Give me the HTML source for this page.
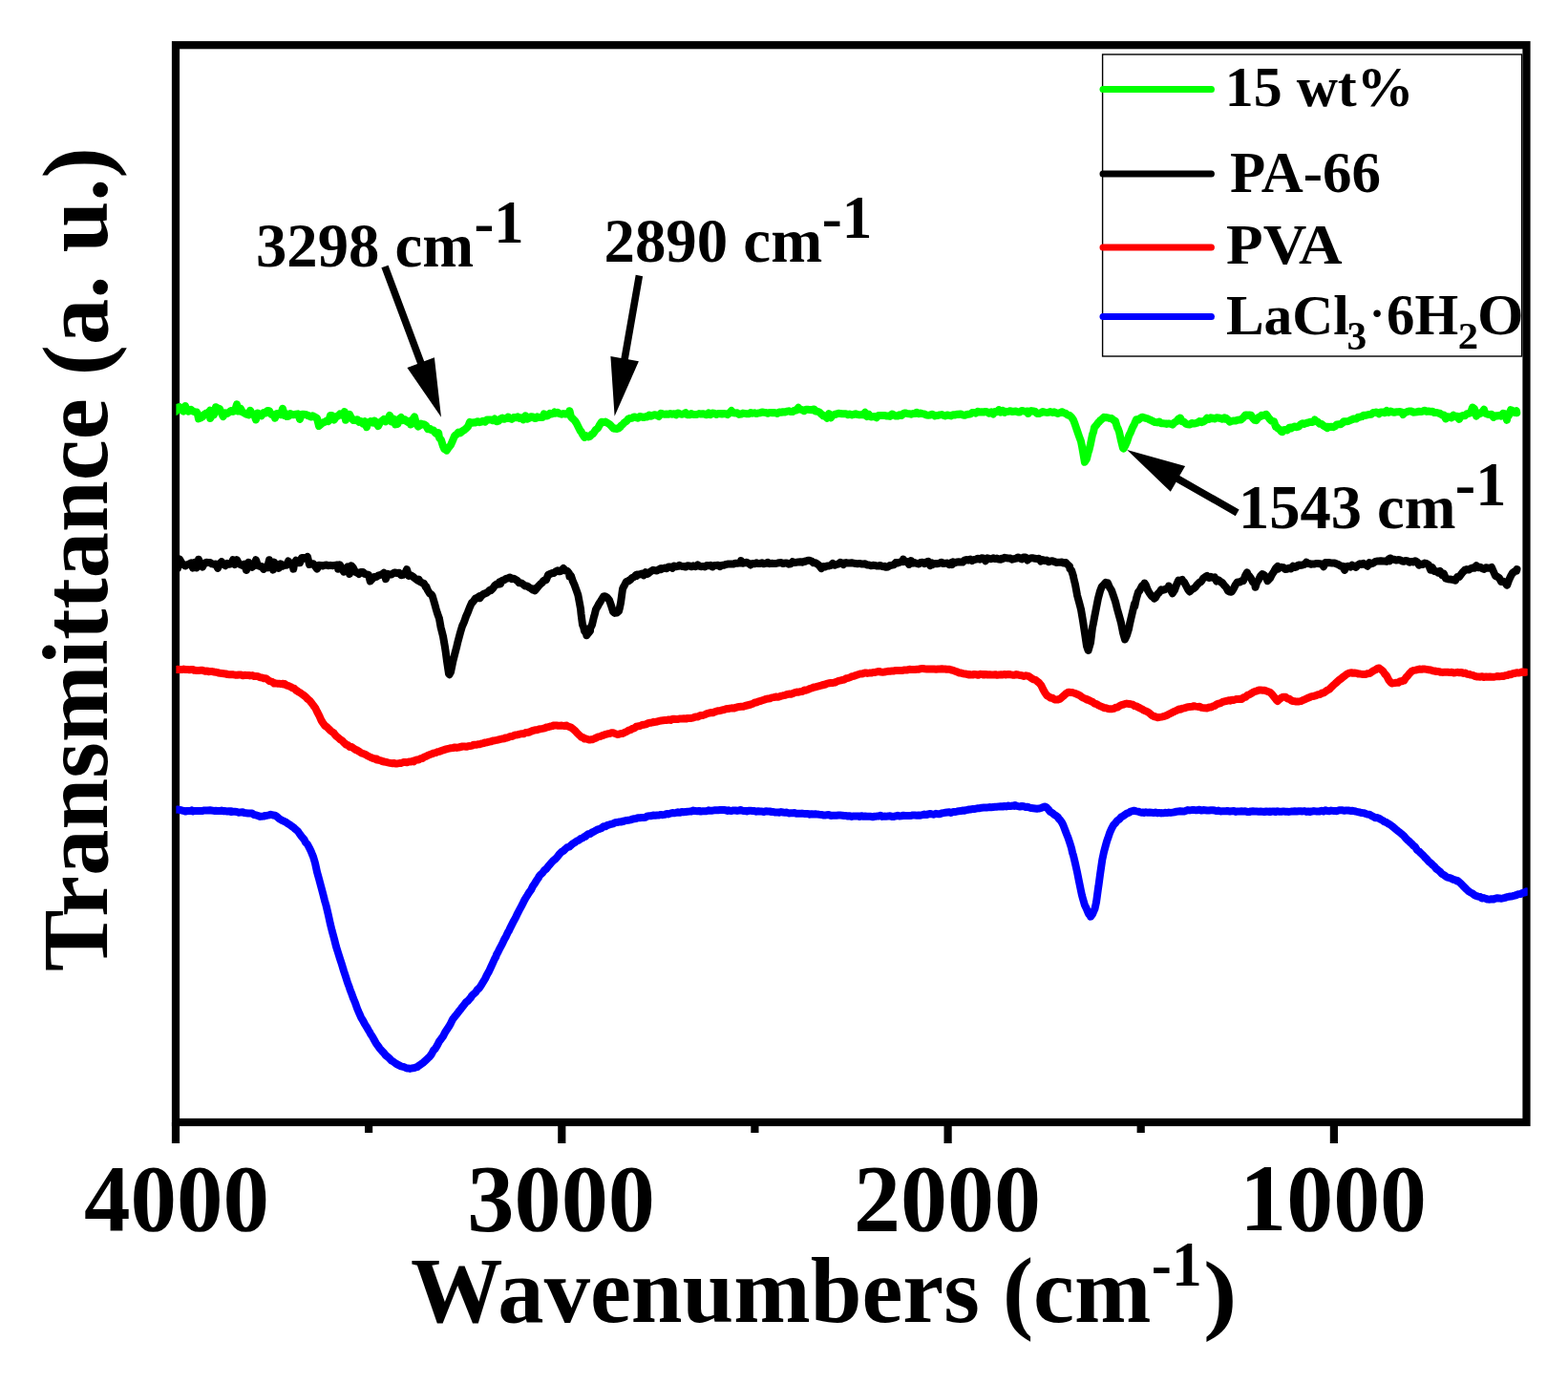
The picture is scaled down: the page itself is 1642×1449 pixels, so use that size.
<!DOCTYPE html>
<html><head><meta charset="utf-8"><title>FTIR spectra</title>
<style>
html,body{margin:0;padding:0;background:#fff;}
body{width:1642px;height:1449px;overflow:hidden;}
svg{display:block;}
text{font-family:"Liberation Serif","Times New Roman",serif;font-weight:bold;fill:#000;}
</style></head>
<body>
<svg width="1642" height="1449" viewBox="0 0 1642 1449">
<rect x="0" y="0" width="1642" height="1449" fill="#fff"/>
<defs><clipPath id="plot"><rect x="184.4" y="0" width="1415.3" height="1449"/></clipPath></defs>
<rect x="184" y="47.2" width="1414.5" height="1127.8" fill="none" stroke="#000" stroke-width="8.2"/>
<g stroke="#000" stroke-width="8.2">
<line x1="184.0" y1="1175" x2="184.0" y2="1197" /><line x1="588.3" y1="1175" x2="588.3" y2="1197" /><line x1="992.6" y1="1175" x2="992.6" y2="1197" /><line x1="1396.9" y1="1175" x2="1396.9" y2="1197" /><line x1="386.1" y1="1175" x2="386.1" y2="1186" /><line x1="790.4" y1="1175" x2="790.4" y2="1186" /><line x1="1194.7" y1="1175" x2="1194.7" y2="1186" />
</g>
<g fill="none" stroke-width="8" stroke-linejoin="round" stroke-linecap="round" clip-path="url(#plot)">
<path d="M184.0,847.8 L186.0,847.4 L188.0,848.0 L190.0,848.3 L192.0,848.8 L194.0,849.5 L196.0,849.0 L198.0,848.9 L200.0,848.8 L200.7,848.4 L202.0,849.5 L204.0,848.9 L206.0,849.1 L208.0,849.1 L210.0,849.0 L212.0,849.0 L214.0,848.4 L216.0,848.4 L218.0,848.6 L220.0,848.3 L221.4,848.5 L224.0,848.9 L226.0,848.8 L228.0,848.9 L230.0,849.1 L232.0,848.6 L234.0,849.2 L236.0,849.1 L238.0,849.5 L240.0,849.2 L242.0,849.3 L242.1,850.0 L244.0,849.8 L246.0,849.8 L248.0,850.0 L250.0,850.7 L252.0,850.4 L254.0,850.2 L256.0,851.1 L258.0,851.3 L260.0,851.6 L262.0,851.5 L262.8,851.6 L264.0,851.6 L266.0,853.0 L268.0,853.4 L270.0,854.0 L272.0,854.9 L273.2,854.8 L274.0,854.7 L276.0,854.6 L278.0,853.9 L280.0,853.7 L282.0,853.3 L283.5,852.7 L286.0,853.5 L288.0,853.8 L290.0,855.0 L292.0,856.8 L294.0,858.1 L295.9,859.2 L298.0,860.2 L300.0,861.2 L302.0,862.6 L304.0,863.8 L306.0,865.4 L308.0,866.8 L308.4,867.3 L310.0,868.6 L312.0,870.4 L314.0,873.4 L316.0,876.0 L318.0,878.4 L318.7,879.2 L320.0,881.9 L322.0,884.0 L324.0,887.8 L326.0,892.0 L327.0,894.6 L328.0,896.9 L330.0,903.6 L332.0,912.9 L333.2,917.1 L334.0,920.0 L336.0,927.5 L338.0,935.0 L340.0,942.8 L341.5,948.0 L344.0,958.6 L346.0,967.8 L347.7,974.6 L350.0,983.0 L352.0,991.0 L354.0,997.4 L356.0,1003.8 L358.0,1009.8 L360.0,1016.5 L362.0,1022.5 L364.0,1028.9 L366.0,1034.1 L366.3,1035.4 L368.0,1039.7 L370.0,1045.3 L372.0,1050.0 L374.0,1055.8 L376.0,1060.5 L376.7,1061.9 L378.0,1065.1 L380.0,1068.3 L382.0,1072.2 L384.0,1075.3 L386.0,1078.9 L387.0,1080.4 L388.0,1082.3 L390.0,1085.4 L392.0,1089.0 L394.0,1092.6 L396.0,1095.2 L397.4,1097.3 L398.0,1098.1 L400.0,1100.3 L402.0,1102.3 L404.0,1105.0 L406.0,1106.5 L407.7,1108.0 L410.0,1110.5 L412.0,1111.6 L414.0,1113.1 L415.5,1114.1 L418.0,1115.4 L420.0,1116.4 L422.0,1116.8 L424.0,1117.5 L426.0,1118.5 L428.0,1118.4 L429.2,1118.9 L430.0,1118.7 L432.0,1118.3 L434.0,1118.0 L436.0,1117.3 L437.3,1117.1 L438.0,1116.2 L440.0,1114.9 L442.0,1113.3 L443.5,1112.3 L446.0,1110.0 L448.0,1108.1 L449.7,1106.6 L452.0,1103.5 L454.0,1099.7 L455.9,1097.8 L458.0,1094.2 L460.0,1090.2 L462.0,1087.7 L462.1,1087.5 L464.0,1085.1 L466.0,1081.0 L468.0,1077.9 L468.3,1077.5 L470.0,1074.9 L472.0,1071.4 L474.0,1067.2 L474.5,1066.6 L476.0,1064.6 L478.0,1062.2 L480.0,1059.6 L480.7,1058.6 L482.0,1057.2 L484.0,1054.4 L486.0,1051.9 L487.0,1050.8 L488.0,1049.3 L490.0,1047.9 L492.0,1045.5 L493.2,1044.2 L494.0,1042.6 L496.0,1040.7 L498.0,1039.0 L500.0,1036.1 L502.0,1034.4 L504.0,1031.3 L505.6,1028.7 L508.0,1024.7 L510.0,1020.5 L512.0,1017.1 L514.0,1012.8 L516.0,1008.3 L518.0,1003.9 L519.2,1001.9 L520.0,999.5 L522.0,995.8 L524.0,991.8 L526.0,988.1 L528.0,983.8 L530.0,980.2 L532.0,975.8 L532.9,974.6 L534.0,972.1 L536.0,968.1 L538.0,964.2 L540.0,960.6 L542.0,956.3 L544.0,952.5 L546.0,948.8 L548.0,944.9 L548.5,943.7 L550.0,941.0 L552.0,937.7 L552.2,937.6 L554.0,934.5 L556.0,931.9 L558.0,927.8 L560.0,924.9 L562.0,921.6 L564.0,918.9 L564.1,918.2 L566.0,915.7 L568.0,914.0 L570.0,911.2 L572.0,909.7 L574.0,907.2 L576.0,904.9 L578.0,902.5 L579.6,900.9 L582.0,899.0 L584.0,896.7 L586.0,894.0 L588.0,891.9 L588.7,891.5 L590.0,890.9 L592.0,888.9 L594.0,887.1 L596.0,886.7 L597.2,885.6 L598.0,884.8 L600.0,883.2 L602.0,882.1 L604.0,880.5 L606.0,879.8 L608.0,878.1 L610.0,877.5 L612.0,875.9 L613.1,875.8 L614.0,874.8 L616.0,873.3 L618.0,873.0 L620.0,871.5 L622.0,870.6 L624.0,869.4 L626.0,868.3 L628.0,867.8 L630.0,867.0 L632.0,865.2 L634.0,865.2 L636.0,864.0 L637.4,863.7 L638.0,863.5 L640.0,862.8 L642.0,862.3 L644.0,861.3 L646.0,861.1 L648.0,860.6 L650.0,860.5 L652.0,860.0 L654.0,859.5 L656.0,858.9 L658.0,858.8 L660.0,858.4 L661.8,857.7 L664.0,857.3 L666.0,857.0 L668.0,856.2 L670.0,856.2 L672.0,856.0 L674.0,856.0 L676.0,855.8 L678.0,854.4 L680.0,854.3 L682.0,854.2 L684.0,853.6 L686.0,853.8 L688.0,853.5 L690.0,853.5 L692.0,852.9 L694.0,853.2 L696.0,852.8 L698.0,852.2 L698.3,852.0 L700.0,852.4 L702.0,851.6 L704.0,851.1 L706.0,851.3 L708.0,850.9 L710.0,850.3 L712.0,850.8 L714.0,849.9 L716.0,850.2 L718.0,849.9 L720.0,849.7 L722.0,849.6 L723.9,849.4 L726.0,848.6 L728.0,849.1 L730.0,849.2 L732.0,848.9 L734.0,849.6 L736.0,849.2 L738.0,849.3 L740.0,849.2 L742.0,848.3 L744.0,848.8 L746.0,848.7 L748.0,848.3 L750.0,848.2 L752.0,848.3 L754.0,848.1 L756.0,848.1 L758.0,848.0 L760.0,848.3 L762.0,848.9 L762.9,848.3 L764.0,848.7 L766.0,849.0 L768.0,848.4 L770.0,848.5 L772.0,848.9 L774.0,848.5 L776.0,848.0 L778.0,849.0 L780.0,849.0 L782.0,849.4 L784.0,848.8 L786.0,848.7 L788.0,848.9 L790.0,849.1 L792.0,849.7 L794.0,849.2 L796.0,849.4 L798.0,849.6 L800.0,850.0 L802.0,849.3 L804.0,849.5 L806.0,849.5 L808.0,850.0 L810.0,850.0 L812.0,850.6 L814.0,850.4 L816.0,850.7 L818.0,850.1 L820.0,850.5 L822.0,850.7 L824.0,850.6 L826.0,851.4 L828.0,851.3 L830.0,851.2 L832.0,851.1 L834.0,851.8 L836.0,851.7 L838.0,851.7 L839.0,851.8 L840.0,851.6 L842.0,851.9 L844.0,852.0 L846.0,852.0 L848.0,852.7 L850.0,852.2 L852.0,852.5 L854.0,852.3 L856.0,852.6 L858.0,852.8 L860.0,852.9 L862.0,853.4 L864.0,853.6 L866.0,853.2 L868.0,852.9 L870.0,854.0 L872.0,853.8 L874.0,853.7 L876.0,853.8 L878.0,853.6 L880.0,853.6 L882.0,853.7 L884.0,854.0 L886.0,854.0 L888.0,854.6 L890.0,854.2 L892.0,854.9 L894.0,854.4 L896.0,854.4 L898.0,854.4 L900.0,855.0 L902.0,854.2 L904.0,854.8 L906.0,854.6 L908.0,854.7 L910.0,854.7 L912.0,854.8 L914.0,855.3 L916.0,854.7 L916.9,854.8 L918.0,854.6 L920.0,854.6 L922.0,853.8 L924.0,854.9 L926.0,854.6 L928.0,854.7 L930.0,854.6 L932.0,854.2 L934.0,854.9 L936.0,854.9 L938.0,854.3 L940.0,853.8 L942.0,854.4 L944.0,854.3 L946.0,853.7 L948.0,853.9 L950.0,854.0 L952.0,854.1 L954.0,854.0 L955.9,853.4 L958.0,853.6 L960.0,853.8 L962.0,853.6 L964.0,853.7 L966.0,853.2 L968.0,852.6 L970.0,853.1 L972.0,852.4 L974.0,852.0 L976.0,852.4 L978.0,852.7 L980.0,851.8 L982.0,852.2 L984.0,852.3 L986.0,851.5 L988.0,851.1 L990.0,850.8 L992.0,850.5 L994.0,850.3 L994.9,850.4 L996.0,851.0 L998.0,850.0 L1000.0,850.1 L1002.0,849.7 L1004.0,849.2 L1006.0,849.1 L1008.0,848.5 L1010.0,848.7 L1012.0,848.1 L1014.0,847.8 L1014.4,847.4 L1016.0,847.5 L1018.0,847.1 L1020.0,847.1 L1022.0,846.6 L1024.0,846.3 L1026.0,846.2 L1028.0,845.7 L1030.0,845.6 L1032.0,845.6 L1034.0,845.4 L1036.0,845.1 L1038.0,845.2 L1040.0,845.0 L1042.0,844.8 L1043.6,844.7 L1046.0,844.4 L1048.0,844.2 L1050.0,844.5 L1052.0,844.0 L1054.0,844.4 L1056.0,843.5 L1058.0,844.1 L1060.0,843.6 L1062.0,843.9 L1063.1,843.1 L1064.0,843.6 L1066.0,844.1 L1068.0,844.5 L1070.0,844.0 L1072.0,844.3 L1074.0,845.0 L1076.0,844.7 L1078.0,845.5 L1080.0,846.1 L1082.0,846.3 L1084.0,846.5 L1086.0,846.7 L1088.0,846.4 L1088.4,846.5 L1090.0,846.0 L1092.0,845.2 L1094.0,844.4 L1094.4,844.6 L1096.0,845.4 L1098.0,847.5 L1099.7,849.8 L1102.0,851.2 L1104.0,852.8 L1106.0,854.1 L1108.0,855.7 L1108.5,856.8 L1110.0,858.3 L1112.0,861.1 L1113.4,863.9 L1116.0,870.7 L1118.0,875.9 L1118.3,876.4 L1120.0,881.6 L1122.0,887.9 L1123.1,892.9 L1124.0,895.6 L1126.0,904.0 L1128.0,913.0 L1130.0,923.0 L1132.0,932.7 L1132.9,937.0 L1134.0,941.0 L1136.0,947.8 L1137.8,951.4 L1140.0,956.8 L1142.0,959.0 L1142.1,959.6 L1144.0,957.3 L1146.0,952.5 L1146.5,951.5 L1148.0,944.7 L1150.0,930.1 L1150.4,927.7 L1152.0,915.8 L1154.0,902.0 L1154.3,900.0 L1156.0,892.0 L1158.0,884.6 L1159.2,880.4 L1160.0,878.2 L1162.0,872.2 L1164.0,867.6 L1166.0,863.8 L1168.0,861.7 L1170.0,859.1 L1172.0,857.9 L1174.0,855.5 L1175.8,854.7 L1178.0,853.0 L1180.0,851.6 L1182.0,851.0 L1184.0,849.6 L1186.0,849.1 L1187.5,848.7 L1190.0,849.3 L1192.0,849.7 L1194.0,850.3 L1196.0,850.8 L1197.2,850.4 L1198.0,851.0 L1200.0,850.3 L1202.0,850.8 L1204.0,850.6 L1206.0,850.7 L1208.0,851.1 L1210.0,850.5 L1212.0,851.2 L1214.0,850.9 L1216.0,851.4 L1216.7,851.1 L1218.0,851.3 L1220.0,850.8 L1222.0,851.1 L1224.0,850.6 L1226.0,850.9 L1228.0,850.6 L1230.0,850.3 L1232.0,849.7 L1234.0,849.5 L1236.0,849.3 L1236.2,849.2 L1238.0,849.6 L1240.0,849.6 L1242.0,848.8 L1244.0,848.1 L1246.0,848.4 L1248.0,848.1 L1250.0,847.9 L1251.3,848.1 L1252.0,848.2 L1254.0,848.2 L1256.0,847.7 L1258.0,848.6 L1260.0,848.1 L1262.0,848.3 L1264.0,848.5 L1266.0,848.4 L1268.0,848.2 L1270.0,848.2 L1272.0,848.5 L1274.0,849.1 L1276.0,848.6 L1278.0,849.4 L1280.0,849.3 L1282.0,849.2 L1284.0,849.2 L1285.1,849.0 L1286.0,849.1 L1288.0,849.6 L1290.0,849.2 L1292.0,849.0 L1294.0,849.9 L1296.0,849.4 L1298.0,849.4 L1300.0,849.3 L1302.0,849.5 L1304.0,849.3 L1306.0,849.9 L1308.0,850.1 L1310.0,849.4 L1312.0,849.3 L1314.0,849.4 L1316.0,849.5 L1318.0,849.7 L1320.0,849.6 L1322.0,849.8 L1324.0,850.0 L1326.0,849.5 L1328.0,849.8 L1330.0,849.6 L1330.1,850.0 L1332.0,849.6 L1334.0,849.5 L1336.0,850.0 L1338.0,849.3 L1340.0,849.8 L1342.0,849.7 L1344.0,849.4 L1346.0,849.7 L1348.0,849.8 L1350.0,849.9 L1352.0,849.6 L1354.0,849.5 L1356.0,849.3 L1358.0,849.4 L1360.0,849.2 L1362.0,849.2 L1364.0,849.4 L1366.0,849.1 L1368.0,849.9 L1370.0,849.5 L1372.0,850.0 L1374.0,849.4 L1375.2,849.3 L1376.0,849.1 L1378.0,849.4 L1380.0,849.4 L1382.0,849.4 L1384.0,848.7 L1386.0,849.4 L1388.0,848.3 L1390.0,849.0 L1392.0,849.2 L1394.0,848.6 L1396.0,848.9 L1398.0,849.0 L1400.0,849.2 L1402.0,848.3 L1404.0,848.3 L1406.0,848.3 L1408.0,848.8 L1409.0,848.4 L1410.0,848.4 L1412.0,848.5 L1414.0,848.9 L1416.0,848.8 L1418.0,849.1 L1420.0,849.7 L1422.0,850.1 L1424.0,850.5 L1426.0,851.1 L1428.0,851.2 L1430.0,851.8 L1431.5,852.5 L1434.0,852.7 L1436.0,854.0 L1438.0,854.9 L1440.0,856.2 L1442.0,856.1 L1444.0,856.8 L1446.0,858.0 L1448.0,859.0 L1450.0,860.5 L1452.0,861.1 L1454.0,862.6 L1454.1,862.4 L1456.0,863.6 L1458.0,865.1 L1460.0,866.8 L1462.0,868.5 L1464.0,870.1 L1466.0,871.6 L1468.0,873.4 L1470.0,875.0 L1472.0,877.5 L1474.0,879.6 L1476.0,881.0 L1476.6,882.0 L1478.0,883.0 L1480.0,885.2 L1482.0,886.7 L1484.0,890.0 L1486.0,891.3 L1488.0,893.4 L1490.0,895.2 L1492.0,897.5 L1494.0,899.4 L1496.0,901.8 L1498.0,903.4 L1499.1,904.3 L1500.0,905.4 L1502.0,907.0 L1504.0,909.5 L1506.0,911.0 L1508.0,912.6 L1510.0,915.0 L1512.0,916.0 L1514.0,917.5 L1514.9,918.1 L1516.0,918.6 L1518.0,919.1 L1520.0,919.8 L1522.0,920.8 L1524.0,921.3 L1526.0,922.5 L1526.2,922.0 L1528.0,923.4 L1530.0,925.2 L1532.0,927.4 L1534.0,929.4 L1536.0,931.4 L1538.0,933.2 L1540.0,934.5 L1541.9,935.4 L1544.0,937.1 L1546.0,938.0 L1548.0,938.6 L1550.0,939.0 L1552.0,940.5 L1554.0,940.1 L1556.0,940.9 L1558.0,941.6 L1560.0,941.7 L1562.0,941.2 L1564.0,941.5 L1566.0,940.6 L1568.0,940.2 L1570.0,940.4 L1572.0,940.7 L1574.0,940.4 L1576.0,939.9 L1578.0,939.2 L1580.0,938.8 L1582.0,938.5 L1584.0,938.2 L1586.0,937.7 L1588.0,937.1 L1590.0,936.2 L1592.0,936.1 L1594.0,935.1 L1596.0,934.5 L1598.0,934.0 L1598.3,933.3" stroke="#0000ff"/>
<path d="M184.3,701.0 L186.3,700.8 L188.3,700.9 L190.3,701.1 L192.3,700.6 L194.3,701.0 L196.3,700.9 L198.3,701.3 L200.3,701.1 L202.3,701.1 L203.4,701.8 L204.3,701.8 L206.3,702.1 L208.3,701.9 L210.3,701.8 L212.3,701.8 L214.3,702.7 L216.3,702.6 L218.3,702.8 L219.0,703.2 L220.3,702.9 L222.3,703.1 L224.3,703.5 L226.3,703.8 L228.3,704.2 L228.7,704.5 L230.3,704.7 L232.3,705.1 L234.3,705.3 L236.3,705.5 L238.3,706.0 L240.3,706.2 L242.3,706.2 L242.4,706.2 L244.3,706.3 L246.3,706.7 L248.3,706.8 L250.3,706.5 L252.3,706.5 L254.3,707.3 L256.3,706.8 L258.3,707.1 L260.3,707.0 L261.9,707.4 L264.3,707.1 L266.3,708.0 L268.3,707.9 L270.3,708.2 L272.3,709.3 L274.3,709.4 L276.3,710.2 L277.4,710.3 L278.3,710.2 L280.3,711.5 L282.3,713.2 L284.3,713.6 L286.3,714.7 L287.2,715.6 L288.3,715.3 L290.3,715.7 L292.3,715.7 L294.3,716.1 L296.3,715.8 L296.9,716.4 L298.3,716.1 L300.3,717.7 L302.3,718.2 L304.3,719.1 L306.3,720.2 L308.3,720.9 L310.3,723.0 L310.6,722.8 L312.3,724.2 L314.3,725.3 L316.3,726.7 L318.3,728.1 L320.3,729.8 L322.3,731.9 L324.3,733.5 L326.3,736.0 L328.3,738.8 L330.3,741.4 L332.0,745.0 L334.3,749.3 L336.3,754.0 L337.9,756.5 L340.3,759.9 L342.3,761.2 L344.3,763.1 L346.3,765.1 L348.3,766.6 L349.6,767.4 L350.3,768.6 L352.3,770.9 L354.3,772.4 L356.3,774.2 L358.3,775.4 L360.3,777.8 L361.3,778.3 L362.3,779.6 L364.3,780.1 L366.3,782.0 L368.3,782.1 L370.3,783.5 L372.3,784.9 L374.3,785.6 L374.9,786.2 L376.3,786.9 L378.3,788.4 L380.3,789.0 L382.3,789.7 L384.3,790.9 L386.3,792.0 L388.3,793.0 L390.3,793.8 L392.3,794.4 L394.3,795.3 L394.4,794.4 L396.3,795.8 L398.3,796.1 L400.3,797.0 L402.3,797.5 L404.3,797.9 L406.3,798.4 L408.3,798.8 L410.3,799.2 L412.3,799.0 L413.9,799.4 L416.3,799.4 L418.3,799.1 L420.3,798.9 L422.3,798.1 L424.3,798.0 L426.3,798.2 L428.3,797.5 L430.3,797.5 L432.3,796.8 L433.4,797.3 L434.3,796.3 L436.3,795.6 L438.3,795.4 L440.3,794.3 L442.3,794.0 L444.3,792.5 L446.3,791.9 L448.3,790.7 L450.3,790.0 L452.3,789.3 L452.9,789.1 L454.3,788.4 L456.3,788.1 L458.3,787.2 L460.3,786.8 L462.3,786.0 L464.3,785.3 L466.3,784.7 L468.3,784.1 L470.3,783.7 L472.3,783.2 L474.3,783.0 L476.3,782.5 L478.3,782.9 L480.3,782.5 L482.3,782.0 L484.3,781.5 L486.3,781.5 L488.3,781.8 L490.0,781.3 L492.3,781.1 L494.3,780.7 L496.3,779.7 L498.3,779.8 L500.3,779.3 L502.3,779.2 L504.3,778.5 L506.3,778.1 L508.3,777.4 L510.3,777.2 L512.3,776.6 L514.3,776.3 L516.3,775.5 L518.3,775.2 L520.3,774.8 L522.3,774.3 L524.3,773.8 L526.3,773.4 L528.3,773.2 L529.0,772.6 L530.3,772.6 L532.3,772.0 L534.3,770.9 L536.3,771.0 L538.3,769.9 L540.3,769.4 L542.3,769.2 L544.3,768.6 L546.3,768.2 L548.3,768.3 L550.3,767.1 L552.3,767.0 L554.3,766.5 L556.3,765.6 L558.3,764.9 L560.3,764.3 L562.3,764.2 L564.3,763.5 L566.3,763.1 L568.0,762.9 L570.3,762.4 L572.3,761.5 L574.3,761.1 L576.3,760.5 L578.3,760.1 L580.3,759.4 L582.3,759.4 L583.5,759.4 L584.3,759.7 L586.3,759.7 L588.3,759.6 L590.3,759.9 L592.3,759.8 L593.3,759.5 L594.3,760.3 L596.3,761.0 L598.3,761.8 L600.3,763.4 L601.1,764.1 L602.3,765.1 L604.3,767.4 L606.3,769.3 L608.3,771.2 L608.9,771.8 L610.3,771.9 L612.3,773.6 L614.3,773.6 L616.3,774.4 L618.3,774.4 L618.6,774.2 L620.3,774.2 L622.3,773.4 L624.3,772.5 L626.3,771.4 L628.3,771.1 L630.3,770.3 L632.3,769.6 L634.3,768.8 L636.3,768.3 L638.3,768.1 L640.3,767.3 L642.0,767.2 L644.3,768.1 L646.3,768.9 L647.9,768.8 L650.3,767.9 L652.3,767.9 L654.3,766.7 L656.3,766.0 L658.3,764.7 L660.3,764.2 L662.3,762.8 L664.3,762.3 L665.4,761.5 L666.3,760.7 L668.3,760.3 L670.3,760.0 L672.3,759.0 L674.3,758.7 L676.3,758.4 L678.3,757.4 L680.3,756.7 L682.3,756.7 L684.3,755.8 L684.9,756.2 L686.3,755.9 L688.3,755.5 L690.3,754.9 L692.3,754.5 L694.3,754.3 L696.3,754.1 L698.3,754.0 L700.3,753.4 L702.3,753.9 L704.3,752.8 L704.4,752.9 L706.3,752.8 L708.3,752.9 L710.3,752.9 L712.3,752.4 L714.3,752.4 L716.3,752.2 L718.3,752.6 L720.3,751.9 L722.3,751.9 L723.9,751.9 L726.3,751.3 L728.3,750.5 L730.3,750.6 L732.3,749.6 L734.3,748.9 L736.3,748.9 L738.3,748.1 L740.3,747.1 L742.3,746.6 L743.4,746.5 L744.3,745.9 L746.3,746.3 L748.3,745.4 L750.3,744.7 L752.3,744.2 L754.3,744.0 L756.3,743.4 L758.3,743.0 L760.3,742.3 L762.3,742.0 L762.9,742.0 L764.3,741.7 L766.3,741.3 L768.3,741.6 L770.3,740.9 L772.3,740.3 L774.3,740.0 L776.3,739.7 L778.3,739.8 L780.3,739.0 L782.3,738.5 L784.3,738.0 L786.3,737.5 L788.3,736.8 L790.3,735.5 L792.3,735.4 L794.3,734.4 L796.3,734.0 L798.3,733.3 L800.0,732.7 L802.3,731.9 L804.3,731.5 L806.3,731.2 L808.3,730.4 L810.3,730.1 L812.3,729.5 L814.3,729.8 L816.3,729.3 L818.3,728.6 L819.5,728.4 L820.3,728.2 L822.3,727.8 L824.3,727.0 L826.3,726.6 L828.3,726.8 L830.3,726.0 L832.3,725.1 L834.3,724.6 L836.3,724.7 L838.3,724.2 L839.0,723.9 L840.3,723.9 L842.3,722.6 L844.3,722.7 L846.3,721.8 L848.3,720.8 L850.3,720.4 L852.3,719.5 L854.3,719.2 L856.3,718.7 L858.3,718.2 L858.5,718.0 L860.3,717.5 L862.3,717.0 L864.3,716.5 L866.3,715.6 L868.3,715.3 L870.3,715.0 L872.3,714.9 L874.3,714.5 L876.3,713.6 L878.0,712.9 L880.3,712.4 L882.3,711.9 L884.3,711.5 L886.3,710.2 L888.3,709.9 L890.3,709.1 L892.3,708.2 L894.3,707.8 L896.3,707.0 L898.3,706.4 L900.3,705.6 L902.3,705.6 L903.3,705.4 L904.3,704.9 L906.3,704.4 L908.3,704.9 L910.3,704.6 L912.3,704.6 L914.3,704.0 L916.3,704.0 L918.3,703.4 L920.3,703.0 L922.3,703.5 L924.3,703.7 L926.3,703.5 L928.3,703.1 L930.3,702.8 L932.3,702.7 L934.3,702.4 L936.3,702.6 L936.4,702.3 L938.3,702.1 L940.3,702.1 L942.3,701.9 L944.3,702.1 L946.3,701.6 L948.3,701.5 L950.3,701.4 L952.3,700.8 L954.3,701.0 L956.3,701.1 L958.3,700.9 L960.3,700.7 L962.3,700.7 L964.3,700.1 L965.7,699.9 L968.3,700.3 L970.3,700.4 L972.3,700.4 L974.3,700.4 L976.3,700.6 L978.3,700.6 L980.3,700.8 L982.3,700.6 L984.3,700.4 L986.3,700.2 L988.3,700.6 L990.3,700.4 L991.0,700.7 L992.3,700.8 L994.3,700.8 L996.3,701.5 L998.3,701.9 L1000.3,702.7 L1002.3,703.4 L1004.3,704.4 L1006.3,704.6 L1008.3,705.2 L1010.3,705.5 L1012.3,705.8 L1014.3,706.4 L1014.4,706.1 L1016.3,706.3 L1018.3,706.6 L1020.3,705.9 L1022.3,706.2 L1024.3,706.8 L1026.3,705.8 L1028.3,705.9 L1030.3,706.6 L1032.3,705.9 L1033.9,706.6 L1036.3,706.2 L1038.3,706.4 L1040.3,706.4 L1042.3,706.2 L1044.3,706.8 L1046.3,706.4 L1048.3,706.3 L1050.3,706.4 L1052.3,706.0 L1053.4,706.4 L1054.3,706.3 L1056.3,706.0 L1058.3,706.3 L1060.3,706.7 L1062.3,706.8 L1064.3,706.1 L1066.3,706.5 L1068.3,707.1 L1070.3,707.3 L1072.3,707.9 L1072.8,707.8 L1074.3,707.3 L1076.3,707.7 L1078.3,708.7 L1080.3,710.1 L1082.3,711.4 L1084.3,711.8 L1086.3,713.5 L1088.3,715.0 L1088.4,715.2 L1090.3,717.5 L1092.3,721.7 L1094.3,725.3 L1096.2,728.1 L1098.3,729.2 L1100.3,730.7 L1102.3,730.8 L1104.3,732.4 L1106.3,732.5 L1107.9,732.4 L1110.3,731.6 L1112.3,729.8 L1114.3,728.1 L1116.3,726.2 L1118.3,725.0 L1119.5,724.7 L1120.3,724.9 L1122.3,724.9 L1124.3,725.5 L1126.3,726.1 L1128.3,727.0 L1130.3,727.9 L1132.3,729.3 L1134.3,730.6 L1136.3,731.4 L1138.3,732.7 L1139.0,732.3 L1140.3,733.1 L1142.3,734.1 L1144.3,735.0 L1146.3,736.6 L1148.3,737.1 L1150.3,738.4 L1152.3,739.3 L1154.3,740.2 L1156.3,741.2 L1158.3,741.3 L1160.3,742.0 L1162.3,742.3 L1162.4,742.2 L1164.3,742.2 L1166.3,741.9 L1168.3,740.8 L1170.3,740.6 L1172.3,739.1 L1174.3,738.2 L1176.3,737.7 L1178.3,736.9 L1179.9,736.6 L1182.3,737.0 L1184.3,737.3 L1186.3,737.7 L1188.3,739.1 L1190.3,739.5 L1192.3,740.7 L1194.3,741.7 L1196.3,742.6 L1197.4,743.4 L1198.3,743.8 L1200.3,744.7 L1202.3,745.6 L1204.3,747.2 L1206.3,748.9 L1208.3,750.0 L1210.3,750.5 L1212.3,751.2 L1213.0,751.2 L1214.3,750.9 L1216.3,750.6 L1218.3,750.2 L1220.3,749.5 L1222.3,748.7 L1224.3,747.6 L1226.3,746.7 L1228.3,745.6 L1230.3,744.6 L1232.3,743.8 L1234.3,742.6 L1236.3,742.7 L1236.4,742.5 L1238.3,741.7 L1240.3,741.4 L1242.3,740.7 L1244.3,740.2 L1246.3,739.9 L1248.3,739.8 L1250.3,739.2 L1252.0,739.6 L1254.3,739.9 L1256.3,739.8 L1258.3,740.8 L1260.3,741.2 L1261.8,741.2 L1264.3,741.4 L1266.3,740.5 L1268.3,740.4 L1270.3,739.3 L1272.3,738.8 L1274.3,737.3 L1276.3,736.6 L1278.3,736.1 L1280.3,734.9 L1282.3,734.4 L1284.3,733.9 L1285.2,733.8 L1286.3,733.2 L1288.3,733.7 L1290.3,732.7 L1292.3,732.9 L1294.3,732.1 L1296.3,731.9 L1298.3,731.8 L1298.8,732.0 L1300.3,732.0 L1302.3,730.2 L1304.3,729.9 L1306.3,727.9 L1308.3,727.2 L1310.3,726.1 L1312.3,724.7 L1314.3,723.9 L1316.3,723.3 L1318.3,722.6 L1320.2,722.6 L1322.3,722.7 L1324.3,722.8 L1326.3,723.5 L1328.3,724.2 L1330.0,724.9 L1332.3,727.2 L1334.3,729.8 L1336.3,732.4 L1337.8,734.0 L1340.3,731.8 L1342.3,730.3 L1343.6,729.7 L1344.3,729.7 L1346.3,729.8 L1348.3,731.5 L1350.3,731.8 L1352.3,733.4 L1354.3,734.1 L1356.3,734.3 L1357.3,734.5 L1358.3,734.6 L1360.3,734.4 L1362.3,734.1 L1364.3,733.2 L1366.3,732.3 L1368.3,731.4 L1370.3,730.5 L1372.3,729.7 L1372.9,729.4 L1374.3,729.0 L1376.3,728.7 L1378.3,728.1 L1380.3,727.2 L1382.3,727.0 L1384.3,725.6 L1386.3,725.5 L1388.3,723.9 L1388.4,723.7 L1390.3,722.5 L1392.3,721.4 L1394.3,719.3 L1396.3,717.4 L1398.3,715.6 L1400.3,713.9 L1402.1,712.1 L1404.3,710.6 L1406.3,708.9 L1408.3,707.5 L1410.3,705.8 L1412.3,704.9 L1414.3,704.4 L1415.3,704.3 L1416.3,704.7 L1418.3,704.6 L1420.3,704.7 L1422.3,705.4 L1424.3,705.6 L1426.3,705.9 L1428.3,706.0 L1429.4,706.0 L1430.3,705.8 L1432.3,705.2 L1434.3,705.1 L1436.3,703.6 L1438.3,702.2 L1440.3,701.4 L1442.3,700.0 L1444.3,699.5 L1444.8,700.0 L1446.3,701.0 L1448.3,702.7 L1450.3,705.8 L1451.2,706.6 L1452.3,707.9 L1454.3,712.0 L1456.3,714.4 L1457.6,715.5 L1458.3,715.2 L1460.3,715.0 L1462.3,714.7 L1464.3,714.8 L1466.3,713.2 L1468.3,713.2 L1469.1,712.4 L1470.3,712.6 L1472.3,709.4 L1474.3,707.4 L1476.3,704.8 L1478.3,702.8 L1479.3,702.4 L1480.3,701.9 L1482.3,701.6 L1484.3,701.1 L1486.3,700.6 L1488.3,700.7 L1489.5,700.7 L1490.3,700.5 L1492.3,700.6 L1494.3,700.9 L1496.3,701.3 L1498.3,701.5 L1500.3,702.2 L1502.3,702.5 L1504.3,703.0 L1506.3,703.0 L1508.3,703.7 L1508.7,703.6 L1510.3,703.9 L1512.3,703.8 L1514.3,703.7 L1516.3,703.8 L1518.3,704.1 L1520.3,703.8 L1522.3,704.4 L1524.3,704.2 L1526.3,703.8 L1527.9,704.3 L1530.3,704.0 L1532.3,704.9 L1534.3,704.6 L1536.3,705.7 L1538.3,705.9 L1540.3,706.6 L1542.3,706.9 L1544.3,707.8 L1546.3,708.4 L1548.3,708.5 L1550.3,708.7 L1552.3,708.2 L1553.5,709.0 L1554.3,708.8 L1556.3,708.6 L1558.3,708.8 L1560.3,708.5 L1562.3,708.7 L1564.3,708.7 L1566.3,708.4 L1568.3,708.0 L1570.3,708.2 L1572.3,707.9 L1572.7,707.8 L1574.3,708.1 L1576.3,707.3 L1578.3,707.1 L1580.3,706.1 L1582.3,706.2 L1584.3,705.2 L1585.4,705.0 L1586.3,704.9 L1588.3,704.2 L1590.3,704.5 L1592.3,704.1 L1594.3,703.4 L1596.3,704.0 L1597.6,703.8" stroke="#ff0000"/>
<path d="M184.0,591.0 L186.0,595.2 L188.0,585.3 L190.0,589.0 L192.0,591.0 L194.0,592.4 L196.0,591.3 L198.0,590.6 L200.0,589.4 L202.0,594.6 L204.0,588.9 L206.0,594.4 L206.8,591.7 L208.0,585.7 L210.0,590.9 L212.0,593.5 L214.0,589.8 L216.0,588.8 L218.0,588.9 L220.0,589.0 L222.0,590.4 L224.0,590.7 L226.0,590.6 L228.0,594.8 L230.0,590.3 L232.0,588.2 L233.6,590.2 L236.0,592.2 L238.0,589.8 L240.0,590.7 L242.0,590.4 L244.0,586.2 L246.0,591.1 L248.0,586.1 L250.0,589.9 L252.0,591.3 L254.0,592.0 L256.0,590.7 L258.0,597.0 L260.0,590.3 L260.4,588.9 L262.0,591.3 L264.0,593.7 L266.0,592.3 L268.0,586.2 L270.0,592.0 L272.0,592.9 L274.0,592.9 L276.0,595.9 L278.0,593.6 L280.0,594.3 L282.0,586.2 L284.0,590.9 L286.0,596.6 L287.2,588.6 L288.0,592.1 L290.0,591.1 L292.0,594.8 L294.0,590.5 L296.0,592.6 L298.0,591.6 L300.0,591.7 L302.0,587.5 L304.0,590.9 L306.0,589.8 L307.3,595.7 L308.0,590.1 L310.0,586.8 L312.0,589.2 L314.0,589.3 L316.0,583.9 L318.0,584.0 L320.0,584.9 L322.0,583.0 L324.0,591.0 L326.0,590.0 L328.0,590.3 L330.0,592.9 L332.0,595.5 L334.0,592.5 L334.1,591.8 L336.0,591.9 L338.0,592.5 L340.0,591.8 L342.0,591.6 L344.0,592.2 L346.0,591.8 L348.0,592.2 L350.0,591.9 L352.0,591.6 L354.0,591.6 L354.2,595.8 L356.0,591.5 L358.0,594.8 L360.0,598.6 L360.9,598.1 L362.0,598.1 L364.0,593.5 L366.0,600.9 L368.0,592.4 L370.0,594.7 L372.0,598.7 L374.0,599.8 L374.3,599.5 L376.0,601.0 L378.0,599.0 L380.0,598.9 L382.0,600.9 L384.0,601.4 L386.0,601.9 L387.7,608.5 L390.0,606.1 L392.0,603.9 L394.0,604.1 L396.0,602.6 L398.0,602.0 L400.0,601.4 L402.0,599.7 L402.8,600.7 L404.0,606.2 L406.0,600.9 L408.0,601.5 L410.0,601.4 L412.0,600.1 L414.0,599.4 L415.6,600.0 L418.0,599.8 L420.0,602.2 L422.0,601.9 L424.0,600.5 L426.0,596.2 L428.0,602.9 L428.4,602.4 L430.0,602.2 L432.0,603.4 L434.0,605.1 L436.0,606.6 L438.0,608.0 L438.6,606.7 L440.0,609.2 L442.0,610.1 L444.0,611.0 L446.0,615.0 L446.3,614.1 L448.0,618.2 L450.0,621.3 L452.0,622.6 L452.7,623.9 L454.0,628.2 L456.0,635.2 L456.5,637.1 L458.0,642.1 L460.0,647.7 L461.6,656.8 L464.0,666.2 L466.0,677.8 L466.7,682.5 L468.0,692.3 L470.0,705.4 L470.6,706.2 L472.0,703.6 L474.0,693.9 L474.4,692.2 L476.0,685.8 L478.0,678.1 L479.5,671.7 L482.0,662.4 L484.0,655.6 L484.6,654.4 L486.0,651.2 L488.0,645.4 L489.8,641.3 L492.0,635.6 L494.0,631.2 L494.9,630.6 L496.0,629.2 L498.0,626.5 L500.0,625.7 L502.0,624.2 L502.5,626.3 L504.0,624.1 L506.0,622.1 L508.0,621.4 L510.0,620.5 L512.0,618.8 L512.8,617.8 L514.0,618.2 L516.0,616.2 L518.0,613.2 L520.0,611.6 L522.0,611.7 L523.0,609.4 L524.0,611.2 L526.0,607.6 L528.0,607.3 L530.0,605.9 L532.0,605.4 L534.0,604.5 L534.5,604.9 L536.0,606.2 L538.0,605.7 L540.0,606.9 L542.0,608.2 L543.5,610.3 L546.0,610.4 L548.0,611.9 L549.9,613.5 L552.0,613.5 L554.0,614.9 L556.0,616.0 L558.0,617.5 L560.0,616.2 L560.1,618.4 L562.0,616.2 L564.0,613.5 L566.0,611.4 L568.0,609.8 L569.0,608.2 L570.0,607.5 L572.0,607.2 L574.0,601.8 L575.4,601.3 L576.0,601.0 L578.0,600.1 L580.0,600.0 L582.0,598.3 L584.0,597.3 L585.7,598.3 L588.0,597.6 L590.0,595.1 L592.0,597.6 L594.0,597.7 L596.0,600.2 L596.4,603.5 L598.0,602.9 L600.0,608.9 L601.5,612.2 L604.0,619.1 L605.3,622.8 L606.0,626.4 L608.0,637.2 L608.5,642.4 L610.0,654.1 L611.1,656.5 L612.0,660.7 L614.0,663.4 L614.3,665.2 L616.0,663.1 L618.0,660.5 L618.1,657.9 L620.0,654.2 L622.0,645.6 L622.6,643.9 L624.0,638.0 L626.0,634.6 L627.1,632.4 L628.0,631.1 L630.0,627.8 L632.0,624.5 L633.5,624.3 L636.0,625.8 L638.0,628.2 L638.6,629.8 L640.0,633.9 L642.0,640.3 L643.7,641.9 L646.0,641.6 L648.0,639.8 L648.8,637.0 L650.0,631.3 L652.0,616.8 L652.7,615.0 L654.0,612.7 L656.0,608.9 L658.0,608.5 L659.1,607.3 L660.0,607.2 L662.0,604.9 L664.0,604.1 L666.0,601.9 L666.7,602.9 L668.0,601.4 L670.0,601.6 L672.0,600.5 L674.0,602.3 L676.0,599.2 L678.0,600.8 L679.5,599.8 L682.0,597.9 L684.0,596.8 L686.0,597.2 L688.0,597.5 L690.0,596.2 L692.0,595.1 L692.3,596.1 L694.0,595.4 L696.0,594.6 L698.0,595.2 L700.0,593.4 L702.0,593.4 L704.0,594.8 L706.0,592.5 L708.0,593.2 L710.0,592.9 L711.5,591.8 L714.0,593.0 L716.0,593.0 L718.0,593.5 L720.0,592.3 L722.0,592.5 L724.0,593.3 L726.0,592.3 L728.0,593.2 L730.0,592.5 L730.7,591.4 L732.0,592.7 L734.0,593.2 L736.0,592.9 L738.0,593.4 L740.0,592.0 L742.0,592.3 L744.0,591.8 L746.0,593.5 L748.0,592.0 L750.0,592.0 L752.0,591.7 L754.0,593.1 L756.0,591.9 L756.3,591.7 L758.0,591.8 L760.0,591.0 L762.0,590.6 L764.0,590.4 L766.0,590.6 L768.0,590.6 L770.0,589.7 L772.0,589.8 L774.0,589.3 L775.4,589.4 L776.0,587.2 L778.0,589.8 L780.0,589.1 L782.0,588.8 L784.0,589.8 L786.0,591.5 L788.0,589.9 L790.0,590.3 L792.0,589.3 L794.0,590.1 L796.0,589.9 L798.0,589.3 L799.7,590.3 L802.0,589.9 L804.0,588.8 L806.0,590.2 L808.0,589.8 L810.0,590.0 L812.0,590.1 L814.0,589.7 L816.0,589.2 L818.0,589.1 L820.0,590.0 L822.0,589.6 L824.0,589.4 L826.0,590.7 L828.0,590.3 L830.0,588.1 L831.4,588.7 L832.0,588.9 L834.0,588.7 L836.0,588.4 L838.0,588.2 L840.0,588.7 L842.0,588.0 L844.0,587.5 L846.0,586.8 L848.0,586.8 L850.0,587.7 L852.0,589.3 L854.0,589.2 L856.0,590.6 L858.0,592.2 L860.0,595.1 L862.0,593.4 L862.5,593.0 L864.0,593.6 L866.0,592.5 L868.0,592.5 L870.0,591.9 L872.0,590.0 L874.0,591.8 L876.0,590.9 L878.0,590.5 L880.0,588.8 L882.0,590.0 L883.2,591.1 L884.0,589.4 L886.0,589.1 L888.0,589.6 L890.0,589.5 L892.0,589.3 L894.0,589.6 L896.0,590.1 L898.0,590.3 L900.0,589.9 L902.0,590.4 L904.0,590.6 L906.0,590.3 L908.0,591.4 L910.0,591.5 L912.0,592.2 L914.0,592.0 L914.2,591.7 L916.0,591.9 L918.0,592.5 L920.0,592.5 L922.0,592.0 L924.0,593.1 L926.0,593.4 L926.7,592.8 L928.0,593.8 L930.0,593.5 L932.0,591.9 L934.0,591.7 L936.0,591.3 L938.0,589.0 L940.0,589.5 L942.0,588.8 L944.0,587.9 L945.3,588.1 L946.0,585.7 L948.0,588.1 L950.0,588.0 L952.0,590.9 L954.0,587.1 L956.0,589.6 L958.0,589.1 L960.0,589.9 L962.0,590.5 L964.0,589.0 L966.0,588.8 L968.0,590.1 L970.0,588.6 L972.0,587.9 L974.0,592.1 L976.0,589.6 L976.4,591.3 L978.0,590.2 L980.0,590.1 L982.0,590.2 L984.0,589.7 L986.0,588.7 L988.0,590.1 L990.0,589.7 L992.0,589.6 L994.0,591.2 L996.0,589.3 L997.1,591.1 L998.0,588.4 L1000.0,589.3 L1002.0,588.5 L1004.0,588.3 L1006.0,588.4 L1008.0,588.6 L1010.0,586.6 L1012.0,586.0 L1014.0,586.6 L1016.0,585.5 L1017.8,587.1 L1020.0,586.0 L1022.0,585.6 L1024.0,584.7 L1026.0,585.7 L1028.0,584.3 L1030.0,584.4 L1032.0,587.3 L1034.0,584.4 L1036.0,584.9 L1038.0,585.2 L1040.0,584.3 L1042.0,585.1 L1044.0,584.6 L1046.0,585.5 L1048.0,585.7 L1048.9,584.7 L1050.0,584.9 L1052.0,583.8 L1054.0,584.3 L1056.0,584.4 L1058.0,584.6 L1060.0,585.7 L1062.0,585.2 L1064.0,584.7 L1066.0,583.5 L1068.0,584.4 L1070.0,585.4 L1072.0,583.5 L1074.0,583.4 L1076.0,586.5 L1078.0,584.9 L1079.9,584.3 L1082.0,584.3 L1084.0,584.8 L1086.0,585.1 L1088.0,584.8 L1090.0,587.6 L1092.0,586.1 L1094.0,587.0 L1096.0,586.6 L1098.0,588.3 L1100.0,587.4 L1100.6,587.6 L1102.0,587.2 L1104.0,588.0 L1106.0,588.9 L1108.0,588.8 L1110.0,588.8 L1112.0,588.6 L1112.8,589.3 L1114.0,589.5 L1116.0,589.0 L1118.0,591.2 L1120.0,592.8 L1120.5,595.7 L1122.0,597.1 L1124.0,603.3 L1124.3,605.1 L1126.0,612.0 L1128.0,622.9 L1128.1,623.5 L1130.0,630.3 L1132.0,638.0 L1134.0,649.9 L1135.8,661.7 L1138.0,676.4 L1139.6,681.0 L1142.0,672.9 L1144.0,656.8 L1144.8,653.4 L1146.0,646.8 L1148.0,636.4 L1149.9,626.7 L1152.0,618.9 L1153.7,614.3 L1156.0,612.0 L1158.0,609.8 L1158.8,610.3 L1160.0,610.3 L1162.0,615.0 L1163.9,617.9 L1166.0,623.9 L1168.0,629.7 L1169.1,634.1 L1170.0,637.7 L1172.0,644.9 L1174.0,652.1 L1174.2,653.3 L1176.0,662.3 L1178.0,669.4 L1180.0,665.0 L1182.0,658.6 L1183.1,653.0 L1184.0,649.2 L1186.0,640.6 L1188.0,632.3 L1188.2,634.9 L1190.0,626.5 L1192.0,619.8 L1193.4,618.4 L1196.0,613.3 L1198.0,612.0 L1198.5,610.6 L1200.0,612.8 L1202.0,618.1 L1202.3,618.7 L1204.0,621.4 L1206.0,624.1 L1208.0,625.5 L1208.7,626.6 L1210.0,625.7 L1212.0,622.2 L1214.0,620.3 L1215.1,618.7 L1216.0,617.3 L1218.0,617.8 L1220.0,617.1 L1222.0,615.9 L1224.0,615.3 L1224.1,613.5 L1226.0,617.8 L1227.9,621.2 L1230.0,617.9 L1232.0,612.4 L1234.0,607.7 L1234.3,609.2 L1236.0,607.8 L1238.0,607.0 L1238.1,608.0 L1240.0,609.4 L1242.0,613.1 L1244.0,617.0 L1245.8,619.4 L1248.0,617.2 L1250.0,616.2 L1252.0,614.5 L1253.5,612.3 L1256.0,609.8 L1258.0,608.8 L1260.0,605.5 L1262.0,604.2 L1264.0,602.9 L1265.0,604.3 L1266.0,605.0 L1268.0,603.8 L1270.0,604.8 L1272.0,604.4 L1274.0,608.5 L1276.0,607.3 L1278.0,608.7 L1279.0,610.0 L1280.0,610.1 L1282.0,612.9 L1284.0,614.8 L1286.0,618.6 L1288.0,619.6 L1289.3,619.8 L1290.0,619.3 L1292.0,615.9 L1294.0,611.9 L1295.7,609.4 L1298.0,609.6 L1300.0,608.2 L1302.0,608.2 L1304.0,602.8 L1306.0,599.4 L1306.4,602.2 L1308.0,602.7 L1310.0,605.5 L1312.0,609.3 L1314.0,610.5 L1314.6,614.7 L1316.0,610.2 L1318.0,607.0 L1320.0,603.0 L1321.9,601.0 L1324.0,602.2 L1326.0,604.8 L1327.4,608.2 L1330.0,605.3 L1332.0,601.4 L1334.0,598.5 L1336.0,594.8 L1338.0,592.9 L1338.4,595.7 L1340.0,594.1 L1342.0,593.8 L1344.0,594.2 L1346.0,596.1 L1347.5,595.9 L1350.0,594.7 L1352.0,595.5 L1354.0,592.7 L1356.0,593.9 L1358.0,593.3 L1358.5,592.3 L1360.0,591.5 L1362.0,591.9 L1364.0,591.5 L1366.0,590.9 L1368.0,588.7 L1370.0,590.0 L1372.0,590.3 L1373.1,590.8 L1374.0,590.5 L1376.0,590.6 L1378.0,590.0 L1380.0,590.1 L1382.0,590.3 L1384.0,590.5 L1386.0,593.2 L1388.0,589.1 L1390.0,589.3 L1391.4,589.0 L1394.0,589.4 L1396.0,589.6 L1398.0,589.6 L1400.0,590.5 L1402.0,591.3 L1404.0,592.6 L1406.0,592.7 L1408.0,596.8 L1409.6,593.1 L1412.0,592.8 L1414.0,593.7 L1416.0,591.7 L1418.0,592.8 L1420.0,593.8 L1422.0,591.6 L1424.0,590.2 L1426.0,590.9 L1427.9,589.9 L1430.0,591.1 L1432.0,592.7 L1434.0,589.1 L1436.0,590.2 L1438.0,589.6 L1440.0,588.1 L1442.0,587.5 L1444.0,587.5 L1446.0,587.2 L1448.0,587.5 L1450.0,587.6 L1452.0,587.9 L1454.0,585.6 L1455.3,587.3 L1456.0,584.5 L1458.0,585.6 L1460.0,585.8 L1462.0,586.6 L1464.0,586.1 L1466.0,586.2 L1468.0,587.3 L1470.0,587.8 L1472.0,586.9 L1473.6,587.1 L1476.0,588.7 L1478.0,587.9 L1480.0,588.5 L1482.0,587.2 L1484.0,588.4 L1486.0,591.6 L1488.0,590.6 L1490.0,591.0 L1491.9,589.6 L1494.0,590.2 L1496.0,591.4 L1498.0,596.7 L1500.0,594.3 L1502.0,598.0 L1504.0,598.4 L1504.6,598.3 L1506.0,599.6 L1508.0,597.9 L1510.0,602.0 L1512.0,600.8 L1514.0,605.7 L1516.0,606.2 L1518.0,606.4 L1520.0,606.7 L1522.0,607.1 L1524.0,607.7 L1526.0,604.1 L1528.0,604.1 L1530.0,601.4 L1532.0,598.8 L1534.0,596.8 L1535.7,596.1 L1538.0,596.6 L1540.0,595.3 L1542.0,594.6 L1544.0,594.8 L1546.0,592.2 L1548.0,594.3 L1550.0,593.7 L1552.0,595.0 L1554.0,595.9 L1556.0,594.2 L1558.0,594.8 L1560.0,594.6 L1561.3,594.4 L1562.0,594.0 L1564.0,598.5 L1566.0,603.0 L1568.0,603.8 L1570.0,605.1 L1572.0,609.0 L1574.0,608.5 L1576.0,609.9 L1578.0,612.6 L1578.3,612.4 L1580.0,607.6 L1582.0,603.3 L1584.0,599.8 L1585.0,599.2 L1586.0,598.1 L1588.0,597.8 L1588.5,596.1" stroke="#000000"/>
<path d="M184.0,431.0 L185.4,426.8 L188.0,426.0 L190.0,429.1 L192.0,430.5 L194.0,425.1 L196.0,429.9 L197.4,430.7 L200.0,428.9 L202.0,430.5 L204.0,431.2 L206.0,431.5 L206.8,432.8 L208.0,438.4 L210.0,437.6 L212.0,436.4 L214.0,433.9 L216.0,432.6 L218.0,433.1 L220.0,429.7 L220.2,437.9 L222.0,434.9 L224.0,434.4 L226.0,426.2 L228.0,427.4 L230.0,428.0 L232.0,432.8 L233.6,436.1 L236.0,432.2 L238.0,432.9 L240.0,431.5 L242.0,430.0 L244.0,430.9 L246.0,429.9 L248.0,423.3 L249.7,430.5 L252.0,427.8 L254.0,431.5 L256.0,432.6 L258.0,433.7 L260.0,433.8 L260.4,434.4 L262.0,429.8 L264.0,433.3 L266.0,433.4 L268.0,439.5 L270.0,432.6 L272.0,434.2 L273.8,435.3 L276.0,432.0 L278.0,432.5 L280.0,429.9 L282.0,430.2 L284.0,434.0 L286.0,433.9 L287.2,434.7 L288.0,437.6 L290.0,433.1 L292.0,433.1 L294.0,434.0 L296.0,427.8 L298.0,435.0 L300.0,433.4 L300.6,436.0 L302.0,435.8 L304.0,433.1 L306.0,434.2 L308.0,434.2 L310.0,433.7 L312.0,433.3 L314.0,438.9 L316.0,433.8 L318.0,433.8 L320.0,433.9 L322.0,434.9 L324.0,435.6 L326.0,436.5 L327.4,435.3 L328.0,435.6 L330.0,436.8 L332.0,438.0 L334.0,446.0 L336.0,444.3 L338.0,442.5 L338.1,442.3 L340.0,441.8 L342.0,440.5 L344.0,441.1 L346.0,435.0 L347.5,435.0 L350.0,439.5 L352.0,436.3 L354.0,435.5 L356.0,433.4 L358.0,434.8 L360.0,434.5 L360.9,431.0 L362.0,439.8 L364.0,436.8 L366.0,433.9 L368.0,437.6 L370.0,440.1 L372.0,440.0 L374.0,440.4 L374.3,439.3 L376.0,441.8 L378.0,441.0 L380.0,443.6 L382.0,441.2 L384.0,447.1 L385.0,443.5 L386.0,442.6 L388.0,441.0 L390.0,442.6 L392.0,442.9 L392.2,440.4 L394.0,442.4 L396.0,446.1 L398.0,442.3 L400.0,440.8 L402.0,439.0 L404.0,441.3 L404.4,439.5 L406.0,439.3 L408.0,434.8 L410.0,441.3 L412.0,438.5 L414.0,444.4 L416.0,444.0 L416.5,443.8 L418.0,438.7 L420.0,437.1 L422.0,440.2 L424.0,439.3 L426.0,441.3 L428.0,442.4 L428.7,440.9 L430.0,444.5 L432.0,439.4 L434.0,436.4 L436.0,443.8 L438.0,446.5 L440.0,445.1 L440.9,443.6 L442.0,444.5 L444.0,444.3 L446.0,445.4 L448.0,449.2 L450.0,448.7 L452.0,450.3 L453.1,450.5 L454.0,450.6 L456.0,453.4 L458.0,454.9 L459.2,453.2 L460.0,458.4 L462.0,460.7 L464.0,467.2 L465.3,470.1 L466.0,470.5 L467.7,471.6 L470.0,468.3 L472.0,466.0 L473.8,461.8 L476.0,456.5 L477.4,455.1 L478.0,455.0 L480.0,452.6 L482.0,453.4 L484.0,451.5 L486.0,450.3 L488.0,448.7 L490.0,446.7 L492.0,441.9 L494.0,442.8 L495.7,442.3 L498.0,442.5 L500.0,441.2 L502.0,442.2 L504.0,441.7 L506.0,440.7 L508.0,441.7 L510.0,439.6 L512.0,439.5 L514.0,439.4 L516.0,440.2 L518.0,438.5 L520.0,441.3 L522.0,440.7 L524.0,438.5 L526.0,437.5 L528.0,438.8 L530.0,437.9 L532.0,437.7 L532.3,436.6 L534.0,438.0 L536.0,438.9 L538.0,437.1 L540.0,437.3 L542.0,436.4 L544.0,438.0 L546.0,437.4 L548.0,439.3 L550.0,437.5 L550.5,435.4 L552.0,438.7 L554.0,437.9 L556.0,436.2 L558.0,436.5 L560.0,438.0 L562.0,437.5 L562.7,436.4 L564.0,437.0 L566.0,437.1 L568.0,437.1 L569.7,433.4 L572.0,435.5 L574.0,435.0 L576.0,432.7 L578.0,433.4 L580.0,432.5 L580.7,431.5 L582.0,432.6 L584.0,431.8 L586.0,433.2 L588.0,433.7 L590.0,433.1 L592.0,433.5 L594.0,433.0 L596.0,433.9 L596.5,430.2 L598.0,436.6 L600.0,438.5 L602.0,440.5 L603.8,443.2 L606.0,447.7 L608.0,451.6 L608.7,451.9 L610.0,454.8 L612.0,457.8 L613.6,456.1 L616.0,457.4 L618.0,456.8 L620.0,454.4 L620.9,454.2 L622.0,452.8 L624.0,449.8 L626.0,448.5 L628.0,444.7 L630.0,441.7 L631.9,442.1 L634.0,441.6 L636.0,442.8 L638.0,443.9 L640.0,445.9 L642.0,448.3 L642.8,448.7 L644.0,448.5 L646.0,449.0 L648.0,448.4 L650.0,446.5 L650.1,445.8 L652.0,444.5 L654.0,442.2 L656.0,441.1 L658.0,438.5 L659.9,437.9 L662.0,437.8 L664.0,436.4 L666.0,437.1 L668.0,437.7 L670.0,436.0 L672.0,436.4 L674.0,437.1 L675.7,436.2 L678.0,436.4 L680.0,434.5 L682.0,435.7 L684.0,434.7 L686.0,434.2 L688.0,434.9 L690.0,436.0 L692.0,432.7 L694.0,433.4 L696.0,433.8 L698.0,433.6 L700.0,433.8 L702.0,433.1 L704.0,433.7 L706.0,433.2 L708.0,434.4 L710.0,432.5 L712.0,433.4 L714.0,433.7 L716.0,433.4 L718.0,432.1 L718.3,433.6 L720.0,434.2 L722.0,434.2 L724.0,433.0 L726.0,434.0 L728.0,434.0 L730.0,433.9 L732.0,433.1 L734.0,433.5 L736.0,433.2 L738.0,433.7 L740.0,434.3 L742.0,432.5 L744.0,434.2 L746.0,432.6 L748.0,432.7 L750.0,434.0 L752.0,433.1 L754.0,433.0 L756.0,433.5 L758.0,433.0 L759.8,433.2 L762.0,434.1 L764.0,432.2 L766.0,430.1 L768.0,432.3 L770.0,432.4 L772.0,432.3 L774.0,433.9 L776.0,433.6 L778.0,432.6 L780.0,432.9 L782.0,433.2 L784.0,433.3 L786.0,432.0 L788.0,432.7 L790.0,432.3 L792.0,433.1 L794.0,432.5 L796.0,432.3 L798.0,431.5 L800.0,431.8 L802.0,432.0 L804.0,432.8 L806.0,431.9 L808.0,431.9 L808.7,432.3 L810.0,432.0 L812.0,432.2 L814.0,432.9 L816.0,431.5 L818.0,431.8 L820.0,431.2 L822.0,431.5 L824.0,430.7 L826.0,430.3 L828.0,431.1 L830.0,431.0 L832.0,429.8 L834.0,429.5 L836.0,426.8 L838.0,428.7 L840.0,429.2 L842.0,430.3 L844.0,428.8 L846.0,428.8 L848.0,429.1 L850.0,429.2 L852.0,428.4 L852.6,428.4 L854.0,430.6 L856.0,430.8 L858.0,431.5 L860.0,433.6 L862.0,434.9 L862.3,435.6 L864.0,435.4 L866.0,437.7 L868.0,433.1 L870.0,437.4 L872.0,434.6 L874.0,434.0 L876.0,433.5 L878.0,432.8 L880.0,433.0 L881.8,433.3 L884.0,433.2 L886.0,433.2 L888.0,434.3 L890.0,433.5 L892.0,434.5 L894.0,433.9 L896.0,433.2 L898.0,434.0 L900.0,434.4 L902.0,434.1 L904.0,434.4 L906.0,431.8 L908.0,436.0 L910.0,434.1 L912.0,436.4 L914.0,436.2 L916.0,436.1 L918.0,437.3 L918.3,436.2 L920.0,434.9 L922.0,435.0 L924.0,435.1 L926.0,434.9 L928.0,435.4 L930.0,435.6 L932.0,435.9 L934.0,433.5 L936.0,434.4 L938.0,435.6 L940.0,435.5 L942.0,434.3 L944.0,435.0 L946.0,433.1 L948.0,432.4 L950.0,433.0 L952.0,433.2 L954.0,433.7 L954.9,433.4 L956.0,433.1 L958.0,433.0 L960.0,431.8 L962.0,433.3 L964.0,432.6 L966.0,433.1 L968.0,433.5 L970.0,434.6 L972.0,434.7 L974.0,434.5 L976.0,433.7 L978.0,434.6 L979.2,435.5 L980.0,435.1 L982.0,435.0 L984.0,434.4 L986.0,434.1 L988.0,434.8 L990.0,435.4 L992.0,434.5 L994.0,434.9 L996.0,435.4 L998.0,434.2 L1000.0,434.5 L1002.0,433.7 L1003.6,434.0 L1006.0,433.4 L1008.0,434.3 L1010.0,434.8 L1012.0,434.2 L1014.0,433.7 L1016.0,433.6 L1018.0,432.1 L1020.0,432.0 L1022.0,432.6 L1024.0,430.8 L1026.0,431.5 L1028.0,431.3 L1030.0,431.5 L1032.0,431.0 L1034.0,431.5 L1036.0,432.8 L1038.0,431.4 L1040.0,433.5 L1042.0,431.1 L1044.0,431.2 L1046.0,429.2 L1048.0,431.6 L1050.0,430.0 L1052.0,431.8 L1052.3,430.8 L1054.0,431.0 L1056.0,430.8 L1058.0,430.2 L1060.0,431.0 L1062.0,430.7 L1064.0,430.4 L1066.0,431.5 L1068.0,431.5 L1070.0,429.9 L1072.0,430.4 L1074.0,430.8 L1076.0,430.6 L1076.7,433.0 L1078.0,430.6 L1080.0,430.1 L1082.0,430.5 L1084.0,431.0 L1086.0,432.9 L1088.0,433.1 L1090.0,432.2 L1092.0,431.0 L1094.0,431.6 L1096.0,431.9 L1098.0,431.8 L1100.0,431.1 L1101.0,431.5 L1102.0,431.9 L1104.0,431.3 L1106.0,432.2 L1108.0,433.0 L1110.0,432.0 L1112.0,432.1 L1112.2,431.2 L1114.0,432.2 L1116.0,432.9 L1118.0,434.5 L1120.0,434.9 L1121.9,436.7 L1124.0,439.6 L1125.4,443.2 L1128.0,450.9 L1130.0,456.7 L1132.0,462.2 L1132.9,466.6 L1134.0,472.7 L1135.9,483.7 L1138.0,480.3 L1140.0,472.1 L1140.2,472.4 L1142.0,464.8 L1144.0,455.0 L1145.1,452.1 L1146.0,447.4 L1148.0,445.3 L1150.0,442.4 L1151.2,441.5 L1152.0,440.4 L1154.0,438.7 L1156.0,436.8 L1157.2,437.2 L1158.0,436.9 L1160.0,437.3 L1162.0,438.0 L1163.3,437.9 L1164.0,438.1 L1166.0,439.8 L1168.0,440.8 L1170.0,447.7 L1170.6,448.4 L1172.0,452.2 L1174.0,461.4 L1176.0,469.4 L1176.7,469.6 L1178.0,467.2 L1180.0,462.9 L1182.0,456.7 L1182.8,454.9 L1184.0,452.6 L1186.0,447.6 L1188.0,443.8 L1188.9,441.6 L1190.0,439.2 L1192.0,439.6 L1194.0,437.9 L1196.0,436.7 L1197.4,437.1 L1200.0,437.9 L1202.0,438.4 L1204.0,439.5 L1206.0,440.3 L1208.0,441.3 L1209.6,442.1 L1212.0,442.4 L1214.0,441.5 L1216.0,443.3 L1218.0,443.3 L1220.0,443.4 L1221.8,443.9 L1224.0,443.4 L1226.0,443.8 L1227.9,444.6 L1230.0,442.2 L1232.0,441.4 L1234.0,438.6 L1235.2,439.3 L1236.0,437.6 L1238.0,441.4 L1240.0,441.7 L1242.0,443.9 L1243.7,444.2 L1246.0,444.5 L1248.0,443.0 L1250.0,443.5 L1252.0,443.2 L1254.0,442.6 L1256.0,441.0 L1258.0,442.1 L1258.3,441.2 L1260.0,441.6 L1262.0,440.4 L1264.0,437.7 L1266.0,438.9 L1268.0,437.2 L1270.0,438.3 L1270.5,437.9 L1272.0,438.4 L1274.0,437.3 L1276.0,437.5 L1278.0,438.0 L1280.0,438.8 L1282.0,437.4 L1282.7,438.6 L1284.0,437.8 L1286.0,439.5 L1288.0,441.7 L1288.8,441.2 L1290.0,440.8 L1292.0,440.4 L1294.0,440.5 L1296.0,439.7 L1298.0,439.6 L1299.4,439.6 L1302.0,437.2 L1304.0,434.6 L1306.0,434.6 L1307.0,434.9 L1308.0,434.4 L1310.0,434.7 L1312.0,437.9 L1314.0,439.9 L1315.5,440.2 L1318.0,436.9 L1320.0,436.0 L1321.1,434.9 L1322.0,435.2 L1324.0,434.5 L1326.0,433.8 L1328.0,436.6 L1330.0,439.2 L1331.5,440.7 L1334.0,441.1 L1336.0,446.9 L1337.2,447.2 L1338.0,448.4 L1340.0,449.6 L1342.0,452.1 L1342.9,452.2 L1344.0,450.2 L1346.0,449.9 L1348.0,450.5 L1350.0,447.7 L1352.0,447.6 L1352.3,448.4 L1354.0,447.4 L1356.0,446.4 L1358.0,447.2 L1360.0,446.7 L1362.0,444.4 L1364.0,443.2 L1365.5,443.9 L1368.0,443.0 L1370.0,442.5 L1372.0,441.8 L1374.0,442.1 L1376.0,441.3 L1376.8,439.5 L1378.0,440.8 L1380.0,441.7 L1382.0,443.8 L1384.0,443.9 L1386.0,445.7 L1388.0,446.8 L1390.0,448.1 L1390.1,446.8 L1392.0,447.0 L1394.0,446.7 L1396.0,447.2 L1398.0,446.4 L1400.0,444.4 L1402.0,444.3 L1404.0,444.3 L1406.0,442.6 L1407.0,441.2 L1408.0,441.3 L1410.0,441.2 L1412.0,441.0 L1414.0,440.0 L1416.0,439.1 L1418.0,438.4 L1420.0,438.6 L1422.0,437.2 L1422.2,436.8 L1424.0,436.7 L1426.0,436.2 L1428.0,434.7 L1430.0,434.9 L1432.0,434.4 L1434.0,433.9 L1436.0,433.7 L1438.0,432.0 L1440.0,432.1 L1441.0,431.5 L1442.0,431.9 L1444.0,433.3 L1446.0,431.4 L1448.0,431.5 L1450.0,432.2 L1452.0,430.0 L1454.0,431.8 L1456.0,430.5 L1458.0,431.3 L1460.0,431.8 L1462.0,431.3 L1464.0,431.2 L1466.0,431.1 L1468.0,431.7 L1469.3,434.0 L1470.0,432.6 L1472.0,431.8 L1474.0,430.9 L1476.0,430.5 L1478.0,430.6 L1480.0,431.7 L1482.0,431.6 L1484.0,431.3 L1486.0,430.7 L1488.0,431.1 L1490.0,430.7 L1492.0,429.7 L1494.0,430.9 L1496.0,430.5 L1498.0,430.9 L1500.0,430.8 L1502.0,432.0 L1504.0,431.9 L1506.0,432.3 L1507.1,433.0 L1508.0,432.8 L1510.0,434.4 L1512.0,434.4 L1514.0,438.4 L1516.0,436.3 L1518.0,436.4 L1520.0,437.4 L1522.0,434.7 L1522.2,436.4 L1524.0,435.7 L1526.0,435.7 L1528.0,438.9 L1530.0,435.7 L1532.0,435.0 L1534.0,435.2 L1536.0,433.4 L1538.0,432.8 L1540.0,432.4 L1541.1,429.1 L1542.0,426.6 L1544.0,428.0 L1546.0,435.6 L1548.0,432.4 L1550.0,433.1 L1552.0,431.6 L1554.0,428.8 L1554.3,430.5 L1556.0,433.0 L1558.0,433.7 L1560.0,433.9 L1562.0,433.8 L1564.0,436.9 L1566.0,435.3 L1567.5,435.5 L1570.0,435.0 L1572.0,435.6 L1574.0,432.7 L1576.0,433.4 L1578.0,439.8 L1578.8,435.3 L1580.0,435.1 L1582.0,429.2 L1584.0,430.2 L1586.0,431.8 L1588.0,430.2 L1588.3,432.2" stroke="#00ff00"/>
</g>
<g fill="#000">
<polygon points="399.4,280.3 437.1,381.0 426.4,385.0 462.0,436.8 454.9,374.3 444.2,378.3 406.6,277.7" /><polygon points="665.7,287.8 650.4,375.0 639.4,373.0 643.6,435.7 668.9,378.2 657.9,376.3 673.1,289.2" /><polygon points="1297.6,533.6 1235.3,498.1 1241.1,488.1 1180.2,471.1 1225.8,514.8 1231.6,504.7 1293.8,540.2" />
</g>
<text transform="translate(88.01,1288.18) scale(0.9942,1.0185)" font-size="97.5">4000</text>
<text transform="translate(489.37,1288.28) scale(1.0086,1.0185)" font-size="97.5">3000</text>
<text transform="translate(894.08,1288.28) scale(1.0053,1.0185)" font-size="97.5">2000</text>
<text transform="translate(1298.27,1288.28) scale(1.0038,1.0200)" font-size="97.5">1000</text>
<text transform="translate(430.11,1384.40) scale(0.9908,0.9908)" font-size="97.5">Wavenumbers (cm</text>
<text transform="translate(1205.78,1345.70) scale(0.9620,1.0233)" font-size="66">-1</text>
<text transform="translate(1260.12,1384.89) scale(1.0920,0.9655)" font-size="97.5">)</text>
<text transform="translate(111.80,1016.98) rotate(-90) scale(0.9914,0.9914)" font-size="97.5">Transmittance (a. u.)</text>
<text transform="translate(267.99,278.80) scale(1.0036,1.0047)" font-size="64.5">3298 cm</text>
<text transform="translate(496.46,253.50) scale(0.9708,0.9907)" font-size="64.5">-1</text>
<text transform="translate(632.48,274.30) scale(1.0054,1.0047)" font-size="64.5">2890 cm</text>
<text transform="translate(860.64,249.30) scale(0.9792,0.9860)" font-size="64.5">-1</text>
<text transform="translate(1296.90,553.30) scale(1.0005,1.0047)" font-size="64.5">1543 cm</text>
<text transform="translate(1523.70,529.00) scale(0.9979,1.0000)" font-size="64.5">-1</text>
<text transform="translate(1282.87,110.90) scale(1.0054,1.0054)" font-size="59.5">15 wt%</text>
<text transform="translate(1288.08,201.00) scale(1.0245,1.0385)" font-size="59.5">PA-66</text>
<text transform="translate(1284.04,275.51) scale(1.0619,0.9900)" font-size="59.5">PVA</text>
<text transform="translate(1283.90,349.90) scale(1.0008,0.9902)" font-size="59.5">LaCl</text>
<text transform="translate(1410.43,365.50) scale(1.0353,1.0577)" font-size="40">3</text>
<text transform="translate(1434.15,344.30) scale(0.7900,0.7800)" font-size="59.5">·</text>
<text transform="translate(1452.02,349.90) scale(0.9877,1.0359)" font-size="59.5">6H</text>
<text transform="translate(1526.76,365.00) scale(1.0687,1.0269)" font-size="40">2</text>
<text transform="translate(1546.96,349.90) scale(1.0475,1.0359)" font-size="59.5">O</text>
<rect x="1154.6" y="57" width="439" height="316" fill="none" stroke="#000" stroke-width="1.4"/>
<g stroke-width="7" stroke-linecap="round">
<line x1="1155" y1="93.6" x2="1268.5" y2="93.6" stroke="#00ff00"/>
<line x1="1155" y1="182" x2="1268.5" y2="182" stroke="#000"/>
<line x1="1155" y1="259" x2="1268.5" y2="259" stroke="#ff0000"/>
<line x1="1155" y1="331.5" x2="1268.5" y2="331.5" stroke="#0000ff"/>
</g>
</svg>
</body></html>
